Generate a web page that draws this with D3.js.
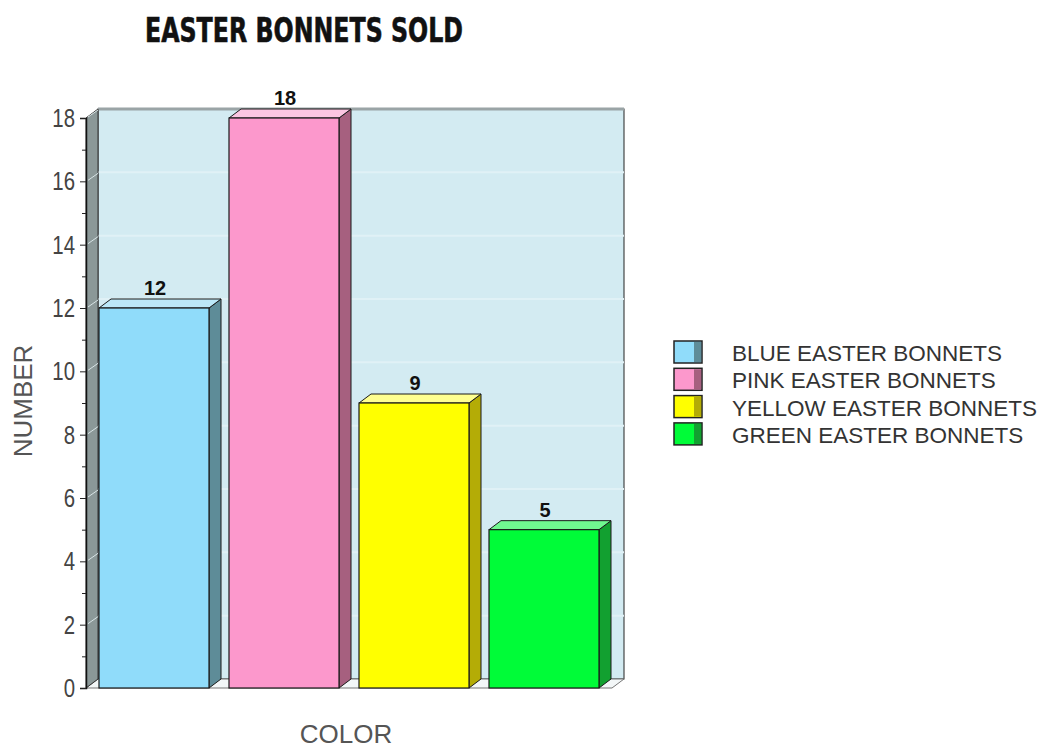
<!DOCTYPE html>
<html>
<head>
<meta charset="utf-8">
<script src="https://cdn.jsdelivr.net/npm/d3@7/dist/d3.min.js"></script>
<style>
  body { margin: 0; background: #fff; }
  text { font-family: "Liberation Sans", Arial, sans-serif; }
</style>
</head>
<body>
<div id="chart"></div>
<script>
// chart data
const categories = ["BLUE EASTER BONNETS", "PINK EASTER BONNETS", "YELLOW EASTER BONNETS", "GREEN EASTER BONNETS"];
const values = [12, 18, 9, 5];
const yTicks = [0, 2, 4, 6, 8, 10, 12, 14, 16, 18];
const minorTicks = [1, 3, 5, 7, 9, 11, 13, 15, 17];

const frontColors = ["#90dcfa", "#fc98cc", "#ffff00", "#00fc38"];
const sideColors = ["#5e8c98", "#a6607f", "#b4ac06", "#12a030"];
const topColors = ["#bce8f8", "#fcc6e2", "#ffff90", "#70f890"];

const W = 1047, H = 751;
const dx = 12, dy = -9;  // depth offset of the 3d box

const svg = d3.select("#chart")
    .append("svg")
    .attr("width", W)
    .attr("height", H);

// Scales
const x = d3.scaleBand()
    .domain(categories)
    .range([89, 609])
    .paddingInner(20 / 130)
    .paddingOuter(10 / 130);

const y = d3.scaleLinear()
    .domain([0, 18])
    .range([688, 118]);

const x0 = 86, x1 = 612;
const y0 = y(0), yTop = y(18);

// back wall
svg.append("rect")
    .attr("x", x0 + dx)
    .attr("y", yTop + dy)
    .attr("width", x1 - x0)
    .attr("height", y0 - yTop)
    .attr("fill", "#d3ebf2")
    .attr("stroke", "#222")
    .attr("stroke-width", 1);

// back wall gridlines
svg.append("g")
    .selectAll("line")
    .data(yTicks.filter(d => d > 0 && d < 18))
    .enter()
    .append("line")
    .attr("x1", x0 + dx)
    .attr("x2", x1 + dx)
    .attr("y1", d => y(d) + dy)
    .attr("y2", d => y(d) + dy)
    .attr("stroke", "#e0f1f6")
    .attr("stroke-width", 2);

// top edge of back wall
svg.append("line")
    .attr("x1", x0 + dx)
    .attr("x2", x1 + dx)
    .attr("y1", yTop + dy)
    .attr("y2", yTop + dy)
    .attr("stroke", "#9aa4a6")
    .attr("stroke-width", 3);

// floor
svg.append("polygon")
    .attr("points", [[x0, y0], [x1, y0], [x1 + dx, y0 + dy], [x0 + dx, y0 + dy]].join(" "))
    .attr("fill", "#f3f7f8")
    .attr("stroke", "#777")
    .attr("stroke-width", 1);

// left wall
svg.append("polygon")
    .attr("points", [[x0, yTop], [x0 + dx, yTop + dy], [x0 + dx, y0 + dy], [x0, y0]].join(" "))
    .attr("fill", "#8b9898")
    .attr("stroke", "#333")
    .attr("stroke-width", 1);

svg.append("g")
    .selectAll("line")
    .data(yTicks.filter(d => d > 0))
    .enter()
    .append("line")
    .attr("x1", x0 + 2)
    .attr("x2", x0 + dx)
    .attr("y1", d => y(d) - 1)
    .attr("y2", d => y(d) + dy + 1)
    .attr("stroke", "#d8e4e6")
    .attr("stroke-width", 1);

// Y axis
const yAxis = svg.append("g")
    .attr("transform", `translate(${x0}, 0)`)
    .call(d3.axisLeft(y).tickValues(yTicks).tickSize(6).tickPadding(5));

yAxis.select(".domain").attr("stroke", "#111").attr("stroke-width", 1.5);
yAxis.selectAll(".tick line").attr("stroke", "#222");
yAxis.selectAll("text")
    .style("font-size", "24px")
    .attr("transform", "scale(0.85, 1.1)")
    .attr("x", -11 / 0.85)
    .attr("fill", "#444");

svg.append("g")
    .attr("transform", `translate(${x0}, 0)`)
    .call(d3.axisLeft(y).tickValues(minorTicks).tickSize(4).tickFormat(""))
    .call(g => g.select(".domain").remove())
    .selectAll(".tick line").attr("stroke", "#222");

// Bars
const bars = svg.append("g")
    .selectAll("g")
    .data(values)
    .enter()
    .append("g");

const bw = x.bandwidth();

bars.append("polygon")
    .attr("points", (d, i) => {
        const l = x(categories[i]) + bw, t = y(d);
        return [[l, t], [l + dx, t + dy], [l + dx, y0 + dy], [l, y0]].join(" ");
    })
    .attr("fill", (d, i) => sideColors[i])
    .attr("stroke", "#1a1a1a")
    .attr("stroke-width", 1);

bars.append("polygon")
    .attr("points", (d, i) => {
        const l = x(categories[i]), t = y(d);
        return [[l, t], [l + dx, t + dy], [l + bw + dx, t + dy], [l + bw, t]].join(" ");
    })
    .attr("fill", (d, i) => topColors[i])
    .attr("stroke", "#1a1a1a")
    .attr("stroke-width", 1);

bars.append("rect")
    .attr("x", (d, i) => x(categories[i]))
    .attr("y", d => y(d))
    .attr("width", bw)
    .attr("height", d => y0 - y(d))
    .attr("fill", (d, i) => frontColors[i])
    .attr("stroke", "#1a1a1a")
    .attr("stroke-width", 1.2);

// value labels
bars.append("text")
    .attr("x", (d, i) => x(categories[i]) + bw / 2 + 1)
    .attr("y", d => y(d) + dy - 4)
    .attr("text-anchor", "middle")
    .style("font-size", "20px")
    .style("font-weight", "bold")
    .attr("fill", "#111")
    .text(d => d);

// Title
svg.append("text")
    .attr("x", 145)
    .attr("y", 42)
    .attr("textLength", 318)
    .attr("lengthAdjust", "spacingAndGlyphs")
    .style("font-family", "'DejaVu Sans Condensed', 'Liberation Sans Narrow', sans-serif")
    .style("font-size", "34px")
    .style("font-weight", "bold")
    .attr("fill", "#111")
    .attr("stroke", "#111")
    .attr("stroke-width", 0.6)
    .text("EASTER BONNETS SOLD");

// axis titles
svg.append("text")
    .attr("transform", "translate(32, 401) rotate(-90)")
    .attr("text-anchor", "middle")
    .style("font-size", "26px")
    .attr("fill", "#555")
    .text("NUMBER");

svg.append("text")
    .attr("x", 346)
    .attr("y", 743)
    .attr("text-anchor", "middle")
    .style("font-size", "26px")
    .attr("fill", "#555")
    .text("COLOR");

// Legend
const legend = svg.append("g")
    .selectAll("g")
    .data(categories)
    .enter()
    .append("g")
    .attr("transform", (d, i) => `translate(674, ${341 + i * 27.3})`);

legend.append("rect")
    .attr("width", 28)
    .attr("height", 22)
    .attr("fill", (d, i) => frontColors[i])
    .attr("stroke", "#222")
    .attr("stroke-width", 1.5);

legend.append("rect")
    .attr("x", 20)
    .attr("y", 1)
    .attr("width", 7)
    .attr("height", 20)
    .attr("fill", (d, i) => sideColors[i]);

legend.append("text")
    .attr("x", 58)
    .attr("y", 20)
    .style("font-size", "22.5px")
    .attr("fill", "#333")
    .text(d => d);
</script>
</body>
</html>
